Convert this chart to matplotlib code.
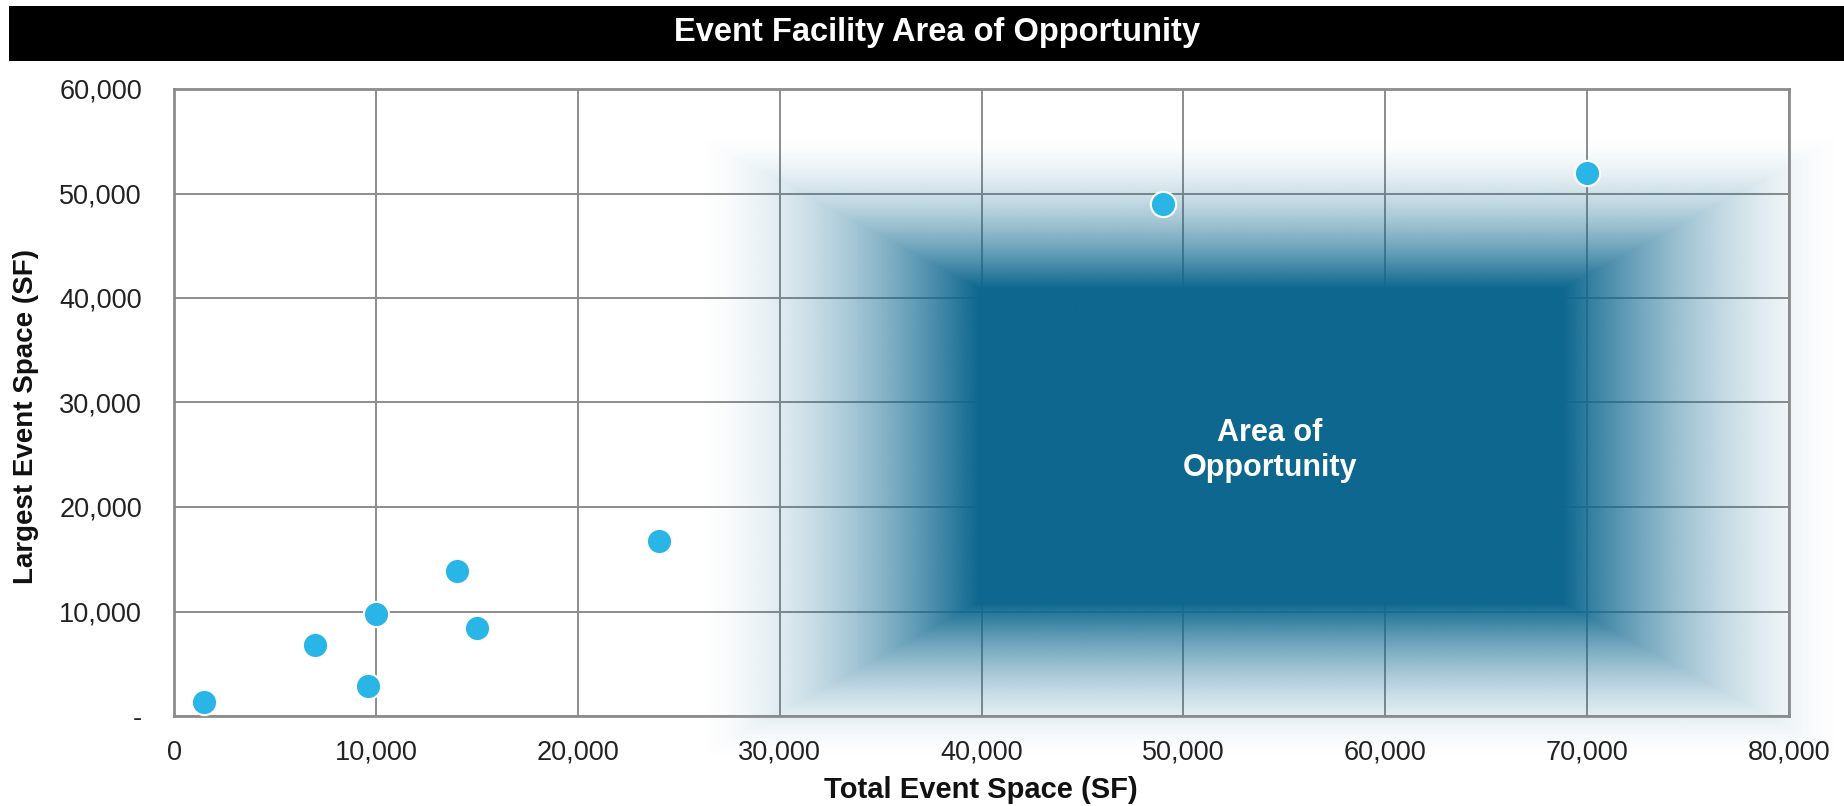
import matplotlib.pyplot as plt
import matplotlib.ticker as plticker
import numpy as np
from matplotlib.colors import to_rgb
from matplotlib.patches import Rectangle

plt.rcParams['font.family'] = ['Liberation Sans', 'DejaVu Sans']

# facilities: total event space vs largest single event space (SF)
total_space = [1500, 7000, 9600, 10000, 14000, 15000, 24000, 49000, 70000]
largest_space = [1300, 6800, 2900, 9800, 13900, 8400, 16700, 49000, 52000]

x_ticks = [0, 10000, 20000, 30000, 40000, 50000, 60000, 70000, 80000]
y_ticks = [0, 10000, 20000, 30000, 40000, 50000, 60000]

title = "Event Facility Area of Opportunity"
x_title = "Total Event Space (SF)"
y_title = "Largest Event Space (SF)"
box_text = "Area of\nOpportunity"

BOX_COLOR = "#0E678E"
POINT_COLOR = "#29B6E6"
GRID_COLOR = "#8C8C8C"


def fade_box(ax, outer, inner, color, gamma=1.7, res=(700, 1400)):
    # solid rectangle (inner) that fades out to nothing at the outer edge,
    # each side ramps on its own so the corners meet on a diagonal
    x0, x1, y0, y1 = outer
    ix0, ix1, iy0, iy1 = inner
    xs = np.linspace(x0, x1, res[1])
    ys = np.linspace(y0, y1, res[0])
    X, Y = np.meshgrid(xs, ys)
    rx = np.minimum((X - x0) / (ix0 - x0), (x1 - X) / (x1 - ix1))
    ry = np.minimum((Y - y0) / (iy0 - y0), (y1 - Y) / (y1 - iy1))
    a = np.clip(np.minimum(rx, ry), 0, 1) ** gamma
    img = np.zeros(a.shape + (4,))
    img[..., :3] = to_rgb(color)
    img[..., 3] = a
    im = ax.imshow(img, extent=(x0, x1, y0, y1), origin="lower",
                   aspect="auto", interpolation="bilinear", zorder=1)
    im.set_clip_on(False)
    return im


fig = plt.figure(figsize=(18.44, 8.06), dpi=100)

# black title band
fig.patches.append(Rectangle((9 / 1844, 1 - 61 / 806), 1, 55 / 806,
                             transform=fig.transFigure, facecolor="black",
                             edgecolor="none", zorder=0))
fig.text(0.5084, 1 - 32 / 806, title, color="white", fontsize=23.5,
         fontweight="bold", ha="center", va="center")

ax = fig.add_axes([174 / 1844, 1 - 716 / 806, 1615 / 1844, 627 / 806])

fade_box(ax, (25700, 82900, -4200, 55800), (39800, 68800, 10800, 41000),
         BOX_COLOR)

ax.scatter(total_space, largest_space, s=330, color=POINT_COLOR,
           edgecolors="white", linewidths=1.5, zorder=3, clip_on=False)

ax.text(54300, 25400, box_text, color="white", fontsize=22,
        fontweight="bold", ha="center", va="center", linespacing=1.25,
        zorder=4)

ax.set_xlim(0, 80000)
ax.set_ylim(0, 60000)
ax.set_xticks(x_ticks)
ax.set_yticks(y_ticks)
ax.xaxis.set_major_formatter(plticker.FuncFormatter(lambda v, p: "{:,.0f}".format(v)))
ax.yaxis.set_major_formatter(plticker.FuncFormatter(
    lambda v, p: "-" if v == 0 else "{:,.0f}".format(v)))
ax.tick_params(axis="both", length=0, labelsize=19.5, colors="#222222")
ax.tick_params(axis="y", pad=23)
ax.tick_params(axis="x", pad=17)

ax.set_axisbelow(True)
ax.grid(True, color=GRID_COLOR, linewidth=1.4, zorder=0)
for side in ax.spines.values():
    side.set_color(GRID_COLOR)
    side.set_linewidth(2)
    side.set_zorder(2.5)

fig.text(981 / 1844, 1 - 790 / 806, x_title, fontsize=21, fontweight="bold",
         ha="center", va="center", color="#111111")
fig.text(26 / 1844, 1 - 416 / 806, y_title, fontsize=20, fontweight="bold",
         ha="center", va="center", rotation=90, color="#111111")

fig.savefig("out.png", dpi=100)
